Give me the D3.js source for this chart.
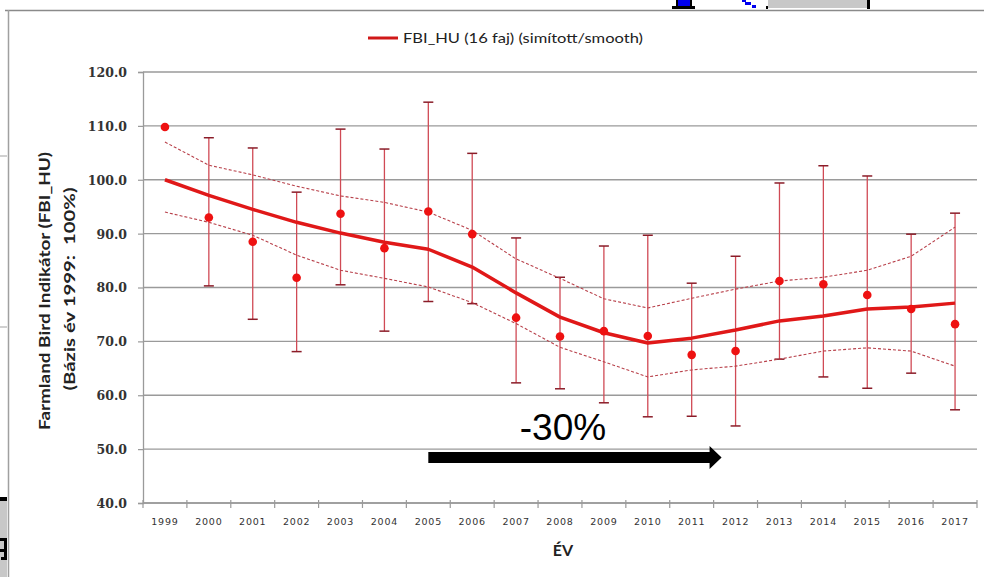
<!DOCTYPE html>
<html><head><meta charset="utf-8">
<script src="https://cdn.jsdelivr.net/npm/d3@7"></script>
<style>html,body{margin:0;padding:0;background:#fff;}svg{display:block;}</style>
</head><body>
<svg id="c" width="984" height="577"></svg>
<script>
const years = ["1999","2000","2001","2002","2003","2004","2005","2006","2007","2008","2009","2010","2011","2012","2013","2014","2015","2016","2017"];
const observed = [109.8,93.0,88.5,81.8,93.7,87.3,94.1,89.9,74.4,70.9,71.9,71.0,67.5,68.2,81.2,80.6,78.6,76.0,73.2];
const errUpper = [null,107.8,105.9,97.7,109.4,105.7,114.4,104.9,89.2,81.9,87.7,89.7,80.8,85.8,99.4,102.6,100.7,89.9,93.8];
const errLower = [null,80.3,74.1,68.1,80.5,71.9,77.4,77.0,62.3,61.2,58.6,56.0,56.1,54.3,66.7,63.4,61.3,64.1,57.3];
const smoothed = [100.0,97.1,94.5,92.1,90.1,88.4,87.1,83.8,79.0,74.5,71.6,69.7,70.6,72.1,73.8,74.7,76.0,76.4,77.1];
const ciUpper = [107.0,102.7,100.9,98.8,97.0,95.8,94.0,90.6,85.3,81.7,77.9,76.2,78.0,79.7,81.2,81.9,83.2,85.8,91.2];
const ciLower = [94.0,92.1,89.7,86.0,83.2,81.7,80.1,77.2,73.3,68.9,66.2,63.4,64.7,65.4,66.7,68.2,68.8,68.2,65.4];
const yTicks = [40,50,60,70,80,90,100,110,120];
const legendLabel = "FBI_HU (16 faj) (simított/smooth)";
const yTitle1 = "Farmland Bird Indikátor (FBI_HU)";
const yTitle2 = "(Bázis év 1999:  100%)";
const xTitle = "ÉV";
const annotation = "-30%";
const arrowFrom = "2005", arrowTo = "2012";

const svg = d3.select("#c");
const L = 143, R = 977, T = 72, B = 503;
const x = d3.scaleBand().domain(years).range([L, R]);
const y = d3.scaleLinear().domain([40, 120]).range([B, T]);
const cx = d => x(d) + x.bandwidth() / 2;

// outer artifacts / frame
const art = svg.append("g");
art.append("line").attr("x1", 5).attr("x2", 984).attr("y1", 10.5).attr("y2", 10.5).attr("stroke", "#8a8a8a").attr("stroke-width", 1.5);
art.append("line").attr("x1", 8.5).attr("x2", 8.5).attr("y1", 10).attr("y2", 577).attr("stroke", "#a0a0a0").attr("stroke-width", 1.5);
art.append("rect").attr("x", 768).attr("y", 0).attr("width", 99).attr("height", 8).attr("fill", "#c8c8c8");
art.append("rect").attr("x", 867).attr("y", 0).attr("width", 3).attr("height", 9).attr("fill", "#000");
art.append("rect").attr("x", 766).attr("y", 6).attr("width", 2).attr("height", 3).attr("fill", "#000");
art.append("rect").attr("x", 672).attr("y", 6).attr("width", 23).attr("height", 3).attr("fill", "#000");
art.append("rect").attr("x", 678).attr("y", 0).attr("width", 12).attr("height", 6).attr("fill", "#0000ee");
art.append("rect").attr("x", 676).attr("y", 0).attr("width", 2).attr("height", 6).attr("fill", "#000");
art.append("rect").attr("x", 690).attr("y", 0).attr("width", 2).attr("height", 6).attr("fill", "#000");
art.append("rect").attr("x", 742).attr("y", 0).attr("width", 4).attr("height", 2).attr("fill", "#0000ee");
art.append("rect").attr("x", 745).attr("y", 2).attr("width", 6).attr("height", 3).attr("fill", "#0000ee");
art.append("rect").attr("x", 752).attr("y", 5).attr("width", 4).attr("height", 3).attr("fill", "#0000ee");
art.append("rect").attr("x", 0).attr("y", 155).attr("width", 7).attr("height", 2).attr("fill", "#d0d0d0");
art.append("rect").attr("x", 0).attr("y", 326).attr("width", 7).attr("height", 2).attr("fill", "#d0d0d0");
art.append("rect").attr("x", 0).attr("y", 497).attr("width", 7).attr("height", 80).attr("fill", "#c8c8c8");
art.append("rect").attr("x", 0).attr("y", 497).attr("width", 7).attr("height", 4).attr("fill", "#000");
art.append("path").attr("d", "M0,538 H7 V560 H1 V557 H4 V552 H0 V549 H4 V541 H0 Z").attr("fill", "#000");

// gridlines
svg.append("g").selectAll("line").data(yTicks).join("line")
  .attr("x1", L).attr("x2", R).attr("y1", d => y(d)).attr("y2", d => y(d))
  .attr("stroke", "#9a9a9a").attr("stroke-width", 1.3);

// y axis
const yAxis = svg.append("g").attr("transform", `translate(${L},0)`)
  .call(d3.axisLeft(y).tickValues(yTicks).tickFormat(d3.format(".1f")).tickSize(5).tickPadding(11));
yAxis.select(".domain").attr("stroke", "#9a9a9a").attr("stroke-width", 1.3);
yAxis.selectAll(".tick line").attr("stroke", "#9a9a9a").attr("stroke-width", 1.2);
yAxis.selectAll("text").attr("font-family", "'DejaVu Serif', serif").attr("font-weight", "bold")
  .attr("font-size", 12.5).attr("fill", "#333").attr("dy", "0.35em");

// x axis
const xAxis = svg.append("g").attr("transform", `translate(0,${B})`)
  .call(d3.axisBottom(x).tickSize(0).tickPadding(15));
xAxis.select(".domain").remove();
xAxis.selectAll("text").attr("font-family", "'DejaVu Sans', sans-serif").attr("font-size", 9.5)
  .attr("letter-spacing", "0.8px").attr("fill", "#333");
const bounds = years.map(d => x(d)).concat([R]);
svg.append("line").attr("x1", L).attr("x2", R).attr("y1", B).attr("y2", B).attr("stroke", "#9a9a9a").attr("stroke-width", 1.3);
svg.append("g").selectAll("line").data(bounds).join("line")
  .attr("x1", d => d).attr("x2", d => d).attr("y1", B - 3).attr("y2", B + 5)
  .attr("stroke", "#9a9a9a").attr("stroke-width", 1.2);

// error bars
const idx = d3.range(years.length).filter(i => errUpper[i] != null);
const eb = svg.append("g");
eb.selectAll("line.v").data(idx).join("line").attr("class", "v")
  .attr("x1", i => cx(years[i])).attr("x2", i => cx(years[i]))
  .attr("y1", i => y(errUpper[i])).attr("y2", i => y(errLower[i]))
  .attr("stroke", "#d04a55").attr("stroke-width", 1.3);
eb.selectAll("line.t").data(idx).join("line").attr("class", "t")
  .attr("x1", i => cx(years[i]) - 5).attr("x2", i => cx(years[i]) + 5)
  .attr("y1", i => y(errUpper[i])).attr("y2", i => y(errUpper[i]))
  .attr("stroke", "#8a1c28").attr("stroke-width", 1.5);
eb.selectAll("line.b").data(idx).join("line").attr("class", "b")
  .attr("x1", i => cx(years[i]) - 5).attr("x2", i => cx(years[i]) + 5)
  .attr("y1", i => y(errLower[i])).attr("y2", i => y(errLower[i]))
  .attr("stroke", "#8a1c28").attr("stroke-width", 1.5);

// CI dashed
const line = arr => d3.line().x((d, i) => cx(years[i])).y(d => y(d))(arr);
[ciUpper, ciLower].forEach(arr => {
  svg.append("path").attr("d", line(arr)).attr("fill", "none")
    .attr("stroke", "#b8404a").attr("stroke-width", 1.1).attr("stroke-dasharray", "3,2");
});

// smoothed line
svg.append("path").attr("d", line(smoothed)).attr("fill", "none")
  .attr("stroke", "#e01818").attr("stroke-width", 3.5).attr("stroke-linejoin", "round");

// observed dots
svg.append("g").selectAll("circle").data(observed).join("circle")
  .attr("cx", (d, i) => cx(years[i])).attr("cy", d => y(d)).attr("r", 4.3).attr("fill", "#ee1111");

// legend
svg.append("line").attr("x1", 368).attr("x2", 398).attr("y1", 38).attr("y2", 38).attr("stroke", "#d01818").attr("stroke-width", 3);
svg.append("text").attr("x", 403).attr("y", 43).text(legendLabel)
  .attr("font-family", "Lato, sans-serif").attr("font-size", 13.5).attr("fill", "#222")
  .attr("textLength", 240).attr("lengthAdjust", "spacingAndGlyphs");

// axis titles
svg.append("text").attr("transform", "translate(50,291) rotate(-90)").attr("text-anchor", "middle")
  .text(yTitle1).attr("font-family", "Lato, sans-serif").attr("font-weight", "bold").attr("font-size", 15.5)
  .attr("fill", "#222").attr("textLength", 278).attr("lengthAdjust", "spacingAndGlyphs");
svg.append("text").attr("transform", "translate(75,289) rotate(-90)").attr("text-anchor", "middle")
  .attr("style", "white-space:pre").attr("xml:space", "preserve")
  .text(yTitle2).attr("font-family", "Lato, sans-serif").attr("font-weight", "bold").attr("font-size", 15.5)
  .attr("fill", "#222").attr("textLength", 203).attr("lengthAdjust", "spacingAndGlyphs");
svg.append("text").attr("x", 563).attr("y", 556).attr("text-anchor", "middle").text(xTitle)
  .attr("font-family", "Lato, sans-serif").attr("font-weight", "bold").attr("font-size", 16).attr("fill", "#222");

// annotation arrow
const ax1 = cx(arrowFrom), ax2 = cx(arrowTo) - 14;
svg.append("path")
  .attr("d", `M${ax1},452 H${ax2 - 12} V446 L${ax2},457.5 L${ax2 - 12},469 V463 H${ax1} Z`)
  .attr("fill", "#000");
svg.append("text").attr("x", 563).attr("y", 440).attr("text-anchor", "middle").text(annotation)
  .attr("font-family", "'Liberation Sans', Arial, sans-serif").attr("font-size", 37).attr("fill", "#000");
</script>
</body></html>
